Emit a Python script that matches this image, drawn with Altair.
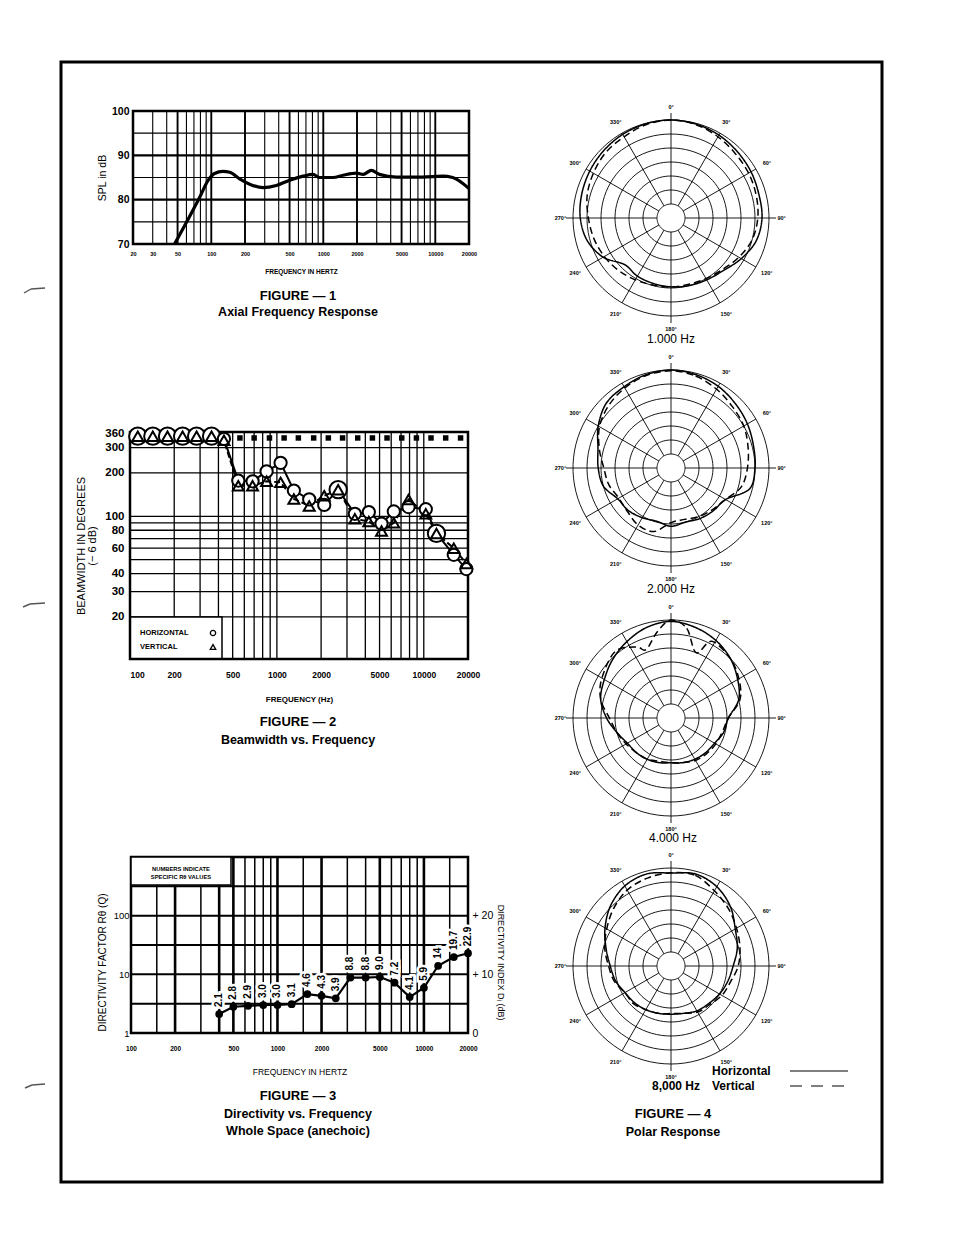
import altair as alt
import pandas as pd

FONT = "Liberation Sans"
OX, OY = 61, 62          # page position of the outer frame (= origin of the view)
VW, VH = 821, 1120       # size of the outer frame

# ---------------- FIGURE 1 : axial frequency response ----------------
spl_freq = [47, 64, 79, 94, 107, 127, 146, 179, 220, 290, 381, 501, 660, 809,
            929, 1222, 1500, 1972, 2270, 2687, 3170, 4490, 7700, 11600, 14300, 20000]
spl_db = [70, 76.2, 80.6, 84.4, 85.9, 86.4, 86.2, 84.7, 83.5, 82.7, 83.2, 84.4, 85.3,
          85.7, 85.0, 85.0, 85.5, 86.0, 85.7, 86.6, 85.7, 85.1, 85.1, 85.3, 85.0, 82.5]
f1_xticks = [20, 30, 50, 100, 200, 500, 1000, 2000, 5000, 10000, 20000]
f1_yticks = [70, 80, 90, 100]
f1_vgrid = [30, 40, 50, 60, 70, 80, 90, 100, 200, 300, 400, 500, 600, 700, 800, 900,
            1000, 2000, 3000, 4000, 5000, 6000, 7000, 8000, 9000, 10000]
f1_vgrid_major = [50, 100, 200, 500, 1000, 2000, 5000, 10000]
f1_hgrid = [75, 80, 85, 90, 95]
f1_hgrid_major = [80, 90]

# ---------------- FIGURE 2 : beamwidth vs frequency ----------------
bw_freq = [113, 143, 180, 228, 284, 359, 436, 546, 683, 851, 1060, 1305, 1660, 2100,
           2613, 3394, 4226, 5155, 6250, 7870, 10320, 12200, 16000, 19500]
bw_h = [360, 360, 360, 360, 360, 360, 345, 177, 175, 205, 235, 151, 131, 120,
        153, 104, 107, 89, 108, 116, 112, 76, 54, 43]
bw_v = [360, 360, 360, 360, 360, 360, 337, 163, 163, 175, 172, 132, 118, 139,
        153, 96, 92, 79, 90, 131, 104, 76, 60, 47]
bw_block_freq = [560, 700, 890, 1120, 1400, 1780, 2240, 2800, 3550, 4470, 5620,
                 7080, 8910, 11200, 14100, 17800]
bw_block_level = 350
f2_xticks = [100, 200, 500, 1000, 2000, 5000, 10000, 20000]
f2_yticks = [20, 30, 40, 60, 80, 100, 200, 300, 360]
f2_vgrid = [200, 300, 400, 500, 600, 700, 800, 900, 1000, 2000, 3000, 4000, 5000,
            6000, 7000, 8000, 9000, 10000]
f2_hgrid = [20, 30, 40, 50, 60, 70, 80, 90, 100, 200, 300]

# ---------------- FIGURE 3 : directivity vs frequency ----------------
di_freq = [400, 500, 630, 800, 1000, 1250, 1600, 2000, 2500, 3150, 4000, 5000,
           6300, 8000, 10000, 12500, 16000, 20000]
di_q = [2.1, 2.8, 2.9, 3.0, 3.0, 3.1, 4.6, 4.3, 3.9, 8.8, 8.8, 9.0, 7.2, 4.1, 5.9,
        14, 19.7, 22.9]
di_text = ["2.1", "2.8", "2.9", "3.0", "3.0", "3.1", "4.6", "4.3", "3.9", "8.8", "8.8",
           "9.0", "7.2", "4.1", "5.9", "14", "19.7", "22.9"]
f3_xticks = [100, 200, 500, 1000, 2000, 5000, 10000, 20000]
f3_yticks = [1, 10, 100]
f3_di_ticks = [0, 10, 20]
f3_vgrid = [150, 200, 300, 400, 500, 600, 700, 800, 900, 1000, 1500, 2000, 3000,
            4000, 5000, 6000, 7000, 8000, 9000, 10000, 15000]
f3_vgrid_major = [200, 400, 500, 1000, 2000, 5000, 10000]
f3_hgrid = [3.162, 10, 31.62, 100, 316.2]

# ---------------- FIGURE 4 : polar response (dB re on-axis) ----------------
ang15 = list(range(0, 360, 15))
p1k_h = [0, -0.3, -0.8, -1.5, -2.0, -2.5, -2.5, -3.5, -6, -8.5, -9.5, -10, -10.4,
         -10.8, -11, -11.5, -7, -4, -2.6, -2, -1.5, -1, -0.5, -0.2]
p1k_v = [0, -0.5, -1.5, -2.5, -3, -3.5, -4, -5, -7, -9, -10, -10.5, -10.4, -10.2,
         -9.5, -8.5, -7.5, -6.5, -5.5, -4, -3, -2, -1.5, -0.5]
p2k_h = [0, -0.5, -1.3, -2.5, -3.5, -4.5, -5, -6, -12.5, -13.5, -14.2, -15, -14.2,
         -15.3, -14.5, -13.5, -13, -10, -9, -8, -5, -2.3, -1.5, -0.5]
p2k_v = [-0.3, -1, -2.5, -4, -5, -6.5, -7.7, -9, -12.5, -14, -15, -16, -15.5, -11.5,
         -11.5, -13, -13.5, -12, -11, -8.5, -5.5, -3.5, -2, -0.8]
p4k_h = [-0.5, -1.5, -3, -5, -7.5, -10, -14.5, -15.5, -17, -17.5, -18, -18.5, -19,
         -18.5, -18, -17.5, -17, -15, -12, -9, -7.5, -5.5, -3.5, -1.5]
p4k_v_ang = [0, 10, 21, 28, 45, 60, 75, 90, 105, 120, 135, 150, 165, 180, 195, 210,
             225, 240, 255, 270, 285, 300, 320, 334, 340, 351]
p4k_v = [0, -2.5, -10, -4, -5, -7, -9.5, -14.5, -16, -16.5, -17, -17.5, -18.5, -19,
         -19, -18, -17.5, -16.5, -15, -13, -9, -6.5, -4, -6.8, -9, -3.8]
p8k_h = [-1.8, -1, -2.3, -5, -8.5, -10.5, -12.8, -14, -15, -16, -16.5, -17.5, -17.8,
         -17.5, -17, -16.5, -16, -14.5, -13.3, -11, -7.8, -4.5, -2, -1]
p8k_v = [-1.7, -1.5, -4, -6, -8, -9.5, -11, -13, -14, -15.5, -16, -17.5, -18, -17.5,
         -17, -16, -16, -14, -12.7, -10.5, -8.5, -6, -3.7, -2.5]
polar_rings = [5, 10, 15, 20, 25, 30, 35]
polar_spokes = list(range(0, 360, 30))
polar_floor = 35      # dB below on-axis at the centre

one = pd.DataFrame({"k": [0]})


def sc_log(dom, rng):
    return alt.Scale(type="log", domain=dom, range=rng, nice=False)


def sc_lin(dom, rng):
    return alt.Scale(type="linear", domain=dom, range=rng, nice=False, zero=False)


def txt(s, x, y, size, weight="bold", align="center", font=FONT):
    return alt.Chart(one).mark_text(
        text=s, fontSize=size, fontWeight=weight, align=align, baseline="middle",
        font=font, color="black"
    ).encode(x=alt.value(x - OX), y=alt.value(y - OY))


def box(x0, y0, x1, y1, w=1.5):
    return alt.Chart(one).mark_rect(fill="white", stroke="black", strokeWidth=w).encode(
        x=alt.value(x0 - OX), x2=alt.value(x1 - OX), y=alt.value(y0 - OY), y2=alt.value(y1 - OY))


def seg(x0, y0, x1, y1, w=1.4, color="#555555"):
    return alt.Chart(one).mark_rule(color=color, strokeWidth=w).encode(
        x=alt.value(x0 - OX), x2=alt.value(x1 - OX), y=alt.value(y0 - OY), y2=alt.value(y1 - OY))


def vgrid(vals, major, hw, lw, xs, ys, lo, hi):
    df = pd.DataFrame({"f": vals, "w": [hw if v in major else lw for v in vals]})
    return alt.Chart(df).mark_rule(color="black").encode(
        x=alt.X("f:Q", scale=xs, axis=None),
        y=alt.YDatum(lo, scale=ys, axis=None), y2=alt.Y2Datum(hi),
        strokeWidth=alt.StrokeWidth("w:Q", scale=None))


def hgrid(vals, major, hw, lw, xs, ys, lo, hi):
    df = pd.DataFrame({"v": vals, "w": [hw if v in major else lw for v in vals]})
    return alt.Chart(df).mark_rule(color="black").encode(
        y=alt.Y("v:Q", scale=ys, axis=None),
        x=alt.XDatum(lo, scale=xs, axis=None), x2=alt.X2Datum(hi),
        strokeWidth=alt.StrokeWidth("w:Q", scale=None))


def frame(xs, ys, xlo, xhi, ylo, yhi, w):
    return alt.Chart(one).mark_rect(filled=False, color="black", strokeWidth=w).encode(
        x=alt.XDatum(xlo, scale=xs, axis=None), x2=alt.X2Datum(xhi),
        y=alt.YDatum(ylo, scale=ys, axis=None), y2=alt.Y2Datum(yhi))


base_axis = dict(domain=False, ticks=False, grid=False, labelOverlap=False,
                 labelColor="black", titleColor="black", labelFont=FONT, titleFont=FONT)

# ======================= FIGURE 1 =======================
F1L, F1R, F1T, F1B = 133, 469, 111, 244
x1 = sc_log([20, 20000], [F1L - OX, F1R - OX])
y1 = sc_lin([70, 100], [F1B - OY, F1T - OY])

fig1_curve = alt.Chart(pd.DataFrame({"f": spl_freq, "db": spl_db})).mark_line(
    color="black", strokeWidth=3.2, interpolate="monotone"
).encode(
    x=alt.X("f:Q", scale=x1, axis=alt.Axis(
        orient="bottom", offset=(F1B - OY) - VH, values=f1_xticks, format="d",
        labelFlush=False, labelFontSize=5.5, labelFontWeight="bold", labelPadding=7,
        title="FREQUENCY IN HERTZ", titleFontSize=6.5, titleFontWeight="bold",
        titlePadding=12, **base_axis)),
    y=alt.Y("db:Q", scale=y1, axis=alt.Axis(
        orient="left", offset=-(F1L - OX), values=f1_yticks, format="d",
        labelFontSize=10.5, labelFontWeight="bold", labelPadding=4,
        title="SPL in dB", titleFontSize=10.5, titleFontWeight="normal",
        titlePadding=4, **base_axis)),
)
fig1 = [
    vgrid(f1_vgrid, f1_vgrid_major, 1.9, 1.1, x1, y1, 70, 100),
    hgrid(f1_hgrid, f1_hgrid_major, 2.4, 1.1, x1, y1, 20, 20000),
    frame(x1, y1, 20, 20000, 70, 100, 2.5),
    fig1_curve,
]

# ======================= FIGURE 2 =======================
F2L, F2R, F2T, F2B = 130, 468, 432, 659
x2 = sc_log([100, 20000], [F2L - OX, F2R - OX])
y2 = sc_log([10.2, 385], [F2B - OY, F2T - OY])
bw_df = pd.DataFrame({"f": bw_freq, "h": bw_h, "v": bw_v})

f2_x_axis = alt.Axis(
    orient="bottom", offset=(F2B - OY) - VH, values=f2_xticks, format="d",
    labelFlush=False, labelFontSize=8.5, labelFontWeight="bold", labelPadding=11,
    labelAlign={"condition": {"test": "datum.value <= 100", "value": "left"}, "value": "center"},
    title="FREQUENCY (Hz)", titleFontSize=8, titleFontWeight="bold", titlePadding=17,
    **base_axis)
f2_y_axis = alt.Axis(
    orient="left", offset=-(F2L - OX), values=f2_yticks, format="d",
    labelFontSize=11.5, labelFontWeight="bold", labelPadding=6,
    labelOffset={"condition": {"test": "datum.value >= 360", "value": -3}, "value": 0},
    title=["BEAMWIDTH IN DEGREES", "(\u2212 6 dB)"], titleFontSize=11,
    titleFontWeight="normal", titleLineHeight=11, titlePadding=7, **base_axis)

fig2_h_line = alt.Chart(bw_df).mark_line(color="black", strokeWidth=2).encode(
    x=alt.X("f:Q", scale=x2, axis=f2_x_axis), y=alt.Y("h:Q", scale=y2, axis=f2_y_axis))
fig2_v_line = alt.Chart(bw_df).mark_line(color="black", strokeWidth=2, strokeDash=[6, 3]).encode(
    x=alt.X("f:Q", scale=x2, axis=None), y=alt.Y("v:Q", scale=y2, axis=None))
fig2_h_pts = alt.Chart(bw_df).mark_point(
    shape="circle", filled=True, fill="white", stroke="black", strokeWidth=2, opacity=1
).encode(
    x=alt.X("f:Q", scale=x2, axis=None), y=alt.Y("h:Q", scale=y2, axis=None),
    size=alt.condition("datum.h == datum.v", alt.value(300), alt.value(150)))
fig2_v_pts = alt.Chart(bw_df).mark_point(
    shape="triangle-up", filled=False, color="black", strokeWidth=2, opacity=1, size=120
).encode(x=alt.X("f:Q", scale=x2, axis=None), y=alt.Y("v:Q", scale=y2, axis=None))
fig2_blocks = alt.Chart(pd.DataFrame({"f": bw_block_freq})).mark_point(
    shape="square", filled=True, color="black", opacity=1, size=30
).encode(x=alt.X("f:Q", scale=x2, axis=None),
         y=alt.YDatum(bw_block_level, scale=y2, axis=None))

fig2 = [
    vgrid(f2_vgrid, [], 1.3, 1.3, x2, y2, 10.2, 385),
    hgrid(f2_hgrid, [], 1.3, 1.3, x2, y2, 100, 20000),
    box(F2L, 617, 222, F2B),
    txt("HORIZONTAL", 140, 633, 7.5, align="left"),
    txt("VERTICAL", 140, 647, 7.5, align="left"),
    alt.Chart(one).mark_point(shape="circle", filled=False, color="black", size=28,
                              strokeWidth=1.3, opacity=1).encode(
        x=alt.value(213 - OX), y=alt.value(633 - OY)),
    alt.Chart(one).mark_point(shape="triangle-up", filled=False, color="black", size=30,
                              strokeWidth=1.3, opacity=1).encode(
        x=alt.value(213 - OX), y=alt.value(647 - OY)),
    frame(x2, y2, 100, 20000, 10.2, 385, 2.5),
    fig2_blocks,
    fig2_v_line, fig2_h_line, fig2_h_pts, fig2_v_pts,
]

# ======================= FIGURE 3 =======================
F3L, F3R, F3T, F3B = 131, 468, 857, 1033
x3 = sc_log([100, 20000], [F3L - OX, F3R - OX])
y3 = sc_log([1, 1000], [F3B - OY, F3T - OY])
d3 = sc_lin([0, 30], [F3B - OY, F3T - OY])
di_df = pd.DataFrame({"f": di_freq, "q": di_q, "t": di_text})

f3_x_axis = alt.Axis(
    orient="bottom", offset=(F3B - OY) - VH, values=f3_xticks, format="d",
    labelFlush=False, labelFontSize=6.5, labelFontWeight="bold", labelPadding=12,
    title="FREQUENCY IN HERTZ", titleFontSize=8.5, titleFontWeight="normal",
    titlePadding=16, **base_axis)
f3_y_axis = alt.Axis(
    orient="left", offset=-(F3L - OX), values=f3_yticks, format="d",
    labelFontSize=9.5, labelFontWeight="normal", labelPadding=2,
    title="DIRECTIVITY FACTOR R\u03b8 (Q)", titleFontSize=10, titleFontWeight="normal",
    titlePadding=6, titleY=962 - OY, **base_axis)

fig3_line = alt.Chart(di_df).mark_line(color="black", strokeWidth=2.2).encode(
    x=alt.X("f:Q", scale=x3, axis=f3_x_axis), y=alt.Y("q:Q", scale=y3, axis=f3_y_axis))
fig3_pts = alt.Chart(di_df).mark_circle(color="black", opacity=1, size=60).encode(
    x=alt.X("f:Q", scale=x3, axis=None), y=alt.Y("q:Q", scale=y3, axis=None))
fig3_halo = alt.Chart(di_df).mark_text(
    angle=270, align="left", baseline="middle", dx=7, fontSize=10, fontWeight="bold",
    font=FONT, color="white", stroke="white", strokeWidth=5
).encode(x=alt.X("f:Q", scale=x3, axis=None), y=alt.Y("q:Q", scale=y3, axis=None), text="t:N")
fig3_lab = alt.Chart(di_df).mark_text(
    angle=270, align="left", baseline="middle", dx=7, fontSize=10, fontWeight="bold",
    font=FONT, color="black"
).encode(x=alt.X("f:Q", scale=x3, axis=None), y=alt.Y("q:Q", scale=y3, axis=None), text="t:N")
fig3_di = alt.Chart(pd.DataFrame({"d": f3_di_ticks})).mark_point(opacity=0).encode(
    y=alt.Y("d:Q", scale=d3, axis=alt.Axis(
        orient="right", offset=(F3R - OX) - VW, values=f3_di_ticks,
        labelExpr="datum.value == 0 ? '0' : '+ ' + datum.value",
        labelFontSize=10.5, labelFontWeight="normal", labelPadding=4,
        title="DIRECTIVITY INDEX D\u1d62 (dB)", titleFontSize=9, titleFontWeight="normal",
        titleAngle=90, titlePadding=3, titleY=962 - OY, **base_axis)))

fig3 = [
    vgrid(f3_vgrid, f3_vgrid_major, 2.6, 1.5, x3, y3, 1, 1000),
    hgrid(f3_hgrid, [], 2.0, 2.0, x3, y3, 100, 20000),
    frame(x3, y3, 100, 20000, 1, 1000, 2.5),
    box(F3L, F3T, 231, 885),
    txt("NUMBERS INDICATE", 181, 869, 5.8),
    txt("SPECIFIC R\u03b8 VALUES", 181, 877, 5.8),
    fig3_halo, fig3_lab, fig3_line, fig3_pts, fig3_di,
]

# ======================= FIGURE 4 (polar) =======================
R_PX = 98


def curve_df(items):
    rows = []
    for series, angs, dbs in items:
        for a, d in zip(angs, dbs):
            rows.append({"a": a, "db": d, "s": series})
    return pd.DataFrame(rows)


def polar(cx, cy, items):
    xs = sc_lin([-polar_floor, polar_floor], [cx - OX - R_PX, cx - OX + R_PX])
    ys = sc_lin([-polar_floor, polar_floor], [cy - OY + R_PX, cy - OY - R_PX])

    def X(f):
        return alt.X(f, type="quantitative", scale=xs, axis=None)

    def Y(f):
        return alt.Y(f, type="quantitative", scale=ys, axis=None)

    rings = alt.Chart(pd.DataFrame({"r": polar_rings})).transform_calculate(
        a="sequence(0, 364, 4)").transform_flatten(["a"]).transform_calculate(
        px="datum.r * sin(datum.a * PI / 180)", py="datum.r * cos(datum.a * PI / 180)"
    ).mark_line(color="black", strokeWidth=0.9).encode(
        x=X("px"), y=Y("py"), detail="r:N", order="a:Q")
    spokes = alt.Chart(pd.DataFrame({"a": polar_spokes})).transform_calculate(
        L="datum.a % 90 == 0 ? 37.5 : 35",
        sx="5 * sin(datum.a * PI / 180)", sy="5 * cos(datum.a * PI / 180)",
        ex="datum.L * sin(datum.a * PI / 180)", ey="datum.L * cos(datum.a * PI / 180)"
    ).mark_rule(color="black", strokeWidth=0.9).encode(
        x=X("sx"), y=Y("sy"), x2="ex:Q", y2="ey:Q")
    labels = alt.Chart(pd.DataFrame({"a": polar_spokes})).transform_calculate(
        px="39.5 * sin(datum.a * PI / 180)", py="39.5 * cos(datum.a * PI / 180)",
        t="datum.a + '\u00b0'"
    ).mark_text(fontSize=5.5, fontWeight="bold", font=FONT, color="black").encode(
        x=X("px"), y=Y("py"), text="t:N")
    curves = alt.Chart(curve_df(items)).transform_calculate(
        r=f"datum.db + {polar_floor}").transform_calculate(
        px="datum.r * sin(datum.a * PI / 180)", py="datum.r * cos(datum.a * PI / 180)"
    ).mark_line(color="black", strokeWidth=1.5, interpolate="cardinal-closed").encode(
        x=X("px"), y=Y("py"), order="a:Q",
        strokeDash=alt.StrokeDash("s:N", scale=alt.Scale(
            domain=["Horizontal", "Vertical"], range=[[1, 0], [7, 4]]), legend=None))
    return [rings, spokes, labels, curves]


pol1 = polar(671, 218, [("Horizontal", ang15, p1k_h), ("Vertical", ang15, p1k_v)])
pol2 = polar(671, 468, [("Horizontal", ang15, p2k_h), ("Vertical", ang15, p2k_v)])
pol3 = polar(671, 718, [("Horizontal", ang15, p4k_h), ("Vertical", p4k_v_ang, p4k_v)])
pol4 = polar(671, 966, [("Horizontal", ang15, p8k_h), ("Vertical", ang15, p8k_v)])

legend_lines = [
    alt.Chart(one).mark_rule(color="black", strokeWidth=1.2).encode(
        x=alt.value(790 - OX), x2=alt.value(848 - OX), y=alt.value(1071 - OY)),
    alt.Chart(one).mark_rule(color="black", strokeWidth=1.2, strokeDash=[12, 9]).encode(
        x=alt.value(790 - OX), x2=alt.value(848 - OX), y=alt.value(1086 - OY)),
]

# faint scan marks in the left margin of the sheet
margin_marks = [
    seg(24, 293, 31, 289), seg(31, 289, 45, 288),
    seg(23, 607, 30, 604), seg(30, 604, 45, 603),
    seg(25, 1088, 32, 1085), seg(32, 1085, 45, 1084),
]

captions = [
    txt("FIGURE \u2014 1", 298, 296, 13),
    txt("Axial Frequency Response", 298, 312, 12.5),
    txt("FIGURE \u2014 2", 298, 722, 13),
    txt("Beamwidth vs. Frequency", 298, 740, 12.5),
    txt("FIGURE \u2014 3", 298, 1096, 13),
    txt("Directivity vs. Frequency", 298, 1114, 12.5),
    txt("Whole Space (anechoic)", 298, 1131, 12.5),
    txt("1.000 Hz", 671, 339, 12, weight="normal"),
    txt("2.000 Hz", 671, 589, 12, weight="normal"),
    txt("4.000 Hz", 673, 838, 12, weight="normal"),
    txt("8,000 Hz", 676, 1086, 12),
    txt("Horizontal", 712, 1071, 12, align="left"),
    txt("Vertical", 712, 1086, 12, align="left"),
    txt("FIGURE \u2014 4", 673, 1114, 13),
    txt("Polar Response", 673, 1132, 12.5),
] + legend_lines + margin_marks

chart = alt.layer(
    *fig1, *fig2, *fig3, *pol1, *pol2, *pol3, *pol4, *captions
).resolve_scale(
    x="independent", y="independent"
).properties(
    width=VW, height=VH,
    autosize=alt.AutoSizeParams(type="none"),
    padding={"left": OX - 8, "top": OY - 8, "right": 8, "bottom": 8},
).configure(
    font=FONT, background="white",
    view=alt.ViewConfig(stroke="black", strokeWidth=3),
)

chart.save("out.html", embed_options={"renderer": "svg", "actions": False})
